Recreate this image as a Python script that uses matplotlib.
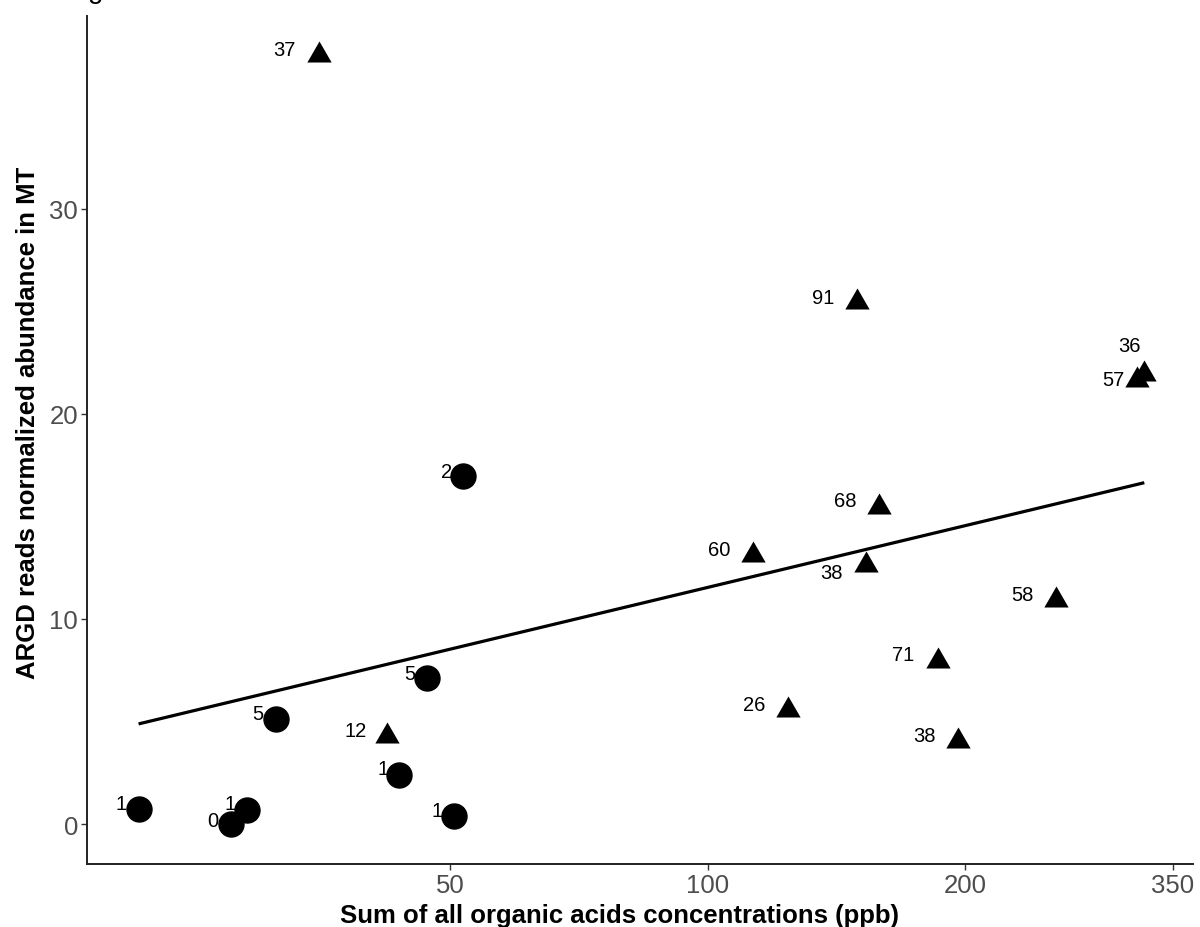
import numpy as np
import matplotlib
matplotlib.use("Agg")
import matplotlib.pyplot as plt
from matplotlib.ticker import FixedLocator, NullLocator, FixedFormatter

plt.rcParams['font.family'] = ['Liberation Sans', 'DejaVu Sans']

# ---- data ----
circle_x = [21.6, 27.7, 28.9, 31.3, 43.6, 47.0, 50.5, 51.8]
circle_y = [0.73, 0.0, 0.70, 5.12, 2.39, 7.11, 0.40, 16.96]
circle_labels = ["1", "0", "1", "5", "1", "5", "1", "2"]

tri_x = [35.1, 42.2, 149.4, 158.8, 113.1, 153.1, 255.5, 185.7, 124.1, 196.4, 324.1, 318.0]
tri_y = [37.49, 4.31, 25.46, 15.47, 13.12, 12.65, 10.94, 7.94, 5.55, 4.03, 21.97, 21.68]
tri_labels = ["37", "12", "91", "68", "60", "38", "58", "71", "26", "38", "36", "57"]

x_ticks = [50, 100, 200, 350]
y_ticks = [0, 10, 20, 30]

# label offsets (pixels: dx right, dy up) relative to each point
circle_off = [(-17, 7), (-18, 5), (-17, 8), (-18, 7), (-16, 8), (-17, 6), (-17, 7), (-17, 6)]
tri_off = [(-34, 7), (-32, 7), (-34, 6), (-34, 8), (-34, 7), (-34, -6), (-34, 7),
           (-34, 8), (-34, 7), (-34, 7), (-15, 30), (-24, 2)]

W, H = 1200, 928
fig = plt.figure(figsize=(W / 100, H / 100), dpi=100)
ax = fig.add_axes([87 / W, (H - 865) / H, (1193 - 87) / W, (865 - 17) / H])
ax.set_xscale('log')
ax.set_xlim(18.8, 369.5)
ax.set_ylim(-1.95, 39.41)

# regression line (OLS on log x, all points)
all_x = np.array(circle_x + tri_x)
all_y = np.array(circle_y + tri_y)
coef = np.polyfit(np.log10(all_x), all_y, 1)
xs = np.array([all_x.min(), all_x.max()])
ax.plot(xs, coef[0] * np.log10(xs) + coef[1], color='black', lw=2.3,
        solid_capstyle='butt', zorder=2)

tri_marker = [(0, 1), (-0.866, -0.5), (0.866, -0.5), (0, 1)]
ax.plot(circle_x, circle_y, linestyle='none', marker='o', ms=18,
        color='black', zorder=3)
ax.plot(tri_x, tri_y, linestyle='none', marker=tri_marker, ms=20.2,
        color='black', markeredgewidth=0, zorder=3)

px2pt = 0.72
cap = 7
for xv, yv, lab, (dx, dy) in zip(circle_x, circle_y, circle_labels, circle_off):
    ax.annotate(lab, (xv, yv), xytext=(dx * px2pt, (dy - cap) * px2pt),
                textcoords='offset points', ha='center', va='baseline',
                fontsize=14.5, color='black', zorder=4)
for xv, yv, lab, (dx, dy) in zip(tri_x, tri_y, tri_labels, tri_off):
    ax.annotate(lab, (xv, yv), xytext=(dx * px2pt, (dy - cap) * px2pt),
                textcoords='offset points', ha='center', va='baseline',
                fontsize=14.5, color='black', zorder=4)

# axes styling (classic theme)
for s in ['top', 'right']:
    ax.spines[s].set_visible(False)
for s in ['left', 'bottom']:
    ax.spines[s].set_color('#222222')
    ax.spines[s].set_linewidth(1.4)

ax.xaxis.set_major_locator(FixedLocator(x_ticks))
ax.xaxis.set_major_formatter(FixedFormatter([str(t) for t in x_ticks]))
ax.xaxis.set_minor_locator(NullLocator())
ax.set_yticks(y_ticks)
ax.set_yticklabels([str(t) for t in y_ticks])
ax.tick_params(axis='both', which='major', direction='out', length=4.5,
               width=1.0, color='#333333', labelcolor='#4D4D4D', labelsize=18.5)
ax.tick_params(axis='x', pad=2)
ax.tick_params(axis='y', pad=2)

fig.text(340 / W, 1 - 923 / H, "Sum of all organic acids concentrations (ppb)",
         ha='left', va='baseline', fontsize=18.5, fontweight='bold', color='black')
fig.text(28 / W, 1 - 423 / H, "ARGD reads normalized abundance in MT",
         ha='center', va='center', rotation=90, fontsize=18.5, fontweight='bold',
         color='black')
# clipped fragment of text above the panel
fig.text(96 / W, 1 + 2 / H, "g", ha='center', va='baseline', fontsize=20,
         color='black')

fig.savefig("out.png", dpi=100, facecolor='white')
